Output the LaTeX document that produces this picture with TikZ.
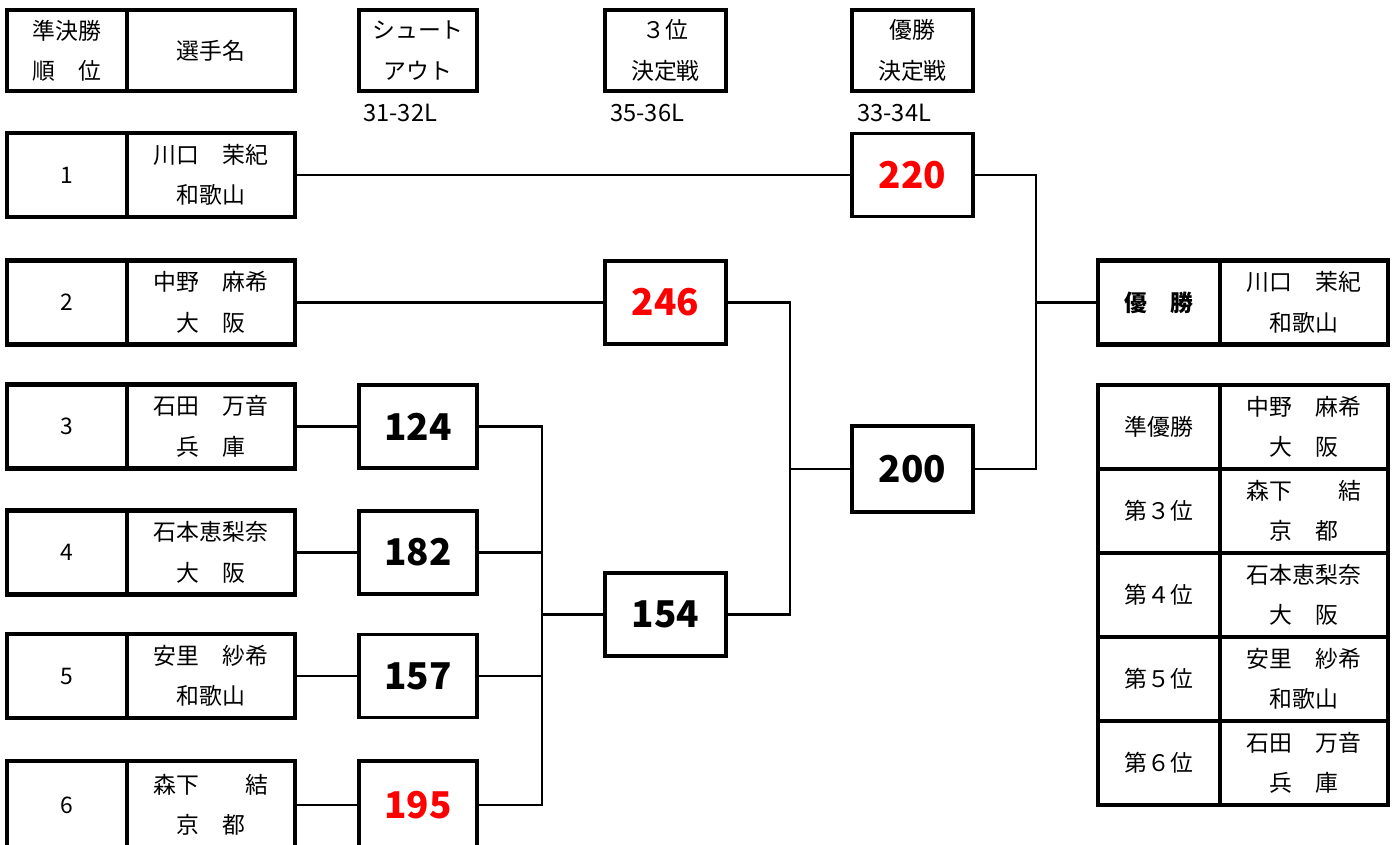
\documentclass[tikz,border=0pt]{standalone}
\usepackage{fontspec}
\setmainfont{Noto Sans CJK JP}
\begin{document}
\begin{tikzpicture}[x=0.02cm,y=-0.02cm,
        hd/.style={draw,line width=1.8pt,minimum width=2.4cm,minimum height=1.62cm,inner sep=0pt,align=center,font=\fontsize{13}{23}\selectfont},
        rk/.style={draw,line width=2.7pt,minimum width=2.4cm,minimum height=1.68cm,inner sep=0pt,align=center,font=\fontsize{13}{23}\selectfont},
        nm/.style={rk,minimum width=3.36cm},
        sc/.style={draw,line width=1.8pt,minimum width=2.4cm,minimum height=1.66cm,inner sep=0pt,font=\fontsize{21}{24}\selectfont\bfseries},
        lb/.style={anchor=west,inner sep=0pt,font=\fontsize{13.5}{16}\selectfont},
        ln/.style={line width=1.4pt}]
        \useasboundingbox (0,0) rectangle (1397,845);

        \node[hd] (h0) at (67,50.5) {準決勝\\順　位};
        \node[hd,minimum width=3.36cm] (h1) at (211,50.5) {選手名};
        \node[hd,minimum width=2.36cm] (hs) at (418,50.5) {シュート\\アウト};
        \node[hd,minimum width=2.42cm] (ht) at (665.5,50.5) {３位\\決定戦};
        \node[hd,minimum width=2.42cm] (hf) at (912.5,50.5) {優勝\\決定戦};
        \node[lb] (ls) at (363,113) {31-32L};
        \node[lb] (lt) at (610,113) {35-36L};
        \node[lb] (lf) at (857,113) {33-34L};

        \node[rk] (p1) at (67,175) {1};
        \node[nm] (q1) at (211,175) {川口　茉紀\\和歌山};
        \node[rk] (p2) at (67,302.5) {2};
        \node[nm] (q2) at (211,302.5) {中野　麻希\\大　阪};
        \node[rk] (p3) at (67,426.5) {3};
        \node[nm] (q3) at (211,426.5) {石田　万音\\兵　庫};
        \node[rk] (p4) at (67,552.5) {4};
        \node[nm] (q4) at (211,552.5) {石本恵梨奈\\大　阪};
        \node[rk] (p5) at (67,676) {5};
        \node[nm] (q5) at (211,676) {安里　紗希\\和歌山};
        \node[rk,minimum height=1.76cm] (p6) at (67,805) {6};
        \node[nm,minimum height=1.76cm] (q6) at (211,805) {森下　　結\\京　都};

        \node[sc,minimum width=2.36cm] (s1) at (418,426.5) {124};
        \node[sc,minimum width=2.36cm] (s2) at (418,552.5) {182};
        \node[sc,minimum width=2.36cm] (s3) at (418,676) {157};
        \node[sc,minimum width=2.36cm,minimum height=1.76cm,text=red] (s4) at (418,805) {195};
        \node[sc,minimum width=2.42cm] (b) at (665.5,614.5) {154};
        \node[sc,minimum width=2.42cm,text=red] (t) at (665.5,302.5) {246};
        \node[sc,minimum width=2.42cm,text=red] (f) at (912.5,175) {220};
        \node[sc,minimum width=2.42cm,minimum height=1.72cm] (sf) at (912.5,469) {200};

        \node[rk,minimum width=2.44cm,font=\fontsize{13}{23}\selectfont\bfseries] (w0) at (1159,302.5) {優　勝};
        \node[nm] (w1) at (1304,302.5) {川口　茉紀\\和歌山};
        \node[rk,minimum width=2.44cm] (r2) at (1159,427) {準優勝};
        \node[nm] (n2) at (1304,427) {中野　麻希\\大　阪};
        \node[rk,minimum width=2.44cm] (r3) at (1159,511) {第３位};
        \node[nm] (n3) at (1304,511) {森下　　結\\京　都};
        \node[rk,minimum width=2.44cm] (r4) at (1159,595) {第４位};
        \node[nm] (n4) at (1304,595) {石本恵梨奈\\大　阪};
        \node[rk,minimum width=2.44cm] (r5) at (1159,679) {第５位};
        \node[nm] (n5) at (1304,679) {安里　紗希\\和歌山};
        \node[rk,minimum width=2.44cm] (r6) at (1159,763) {第６位};
        \node[nm] (n6) at (1304,763) {石田　万音\\兵　庫};

        \coordinate (j1) at (542,614.5);
        \coordinate (j2) at (790,469);
        \coordinate (j3) at (1036,302.5);

        \draw[ln] (q1.east) -- (f.west);
        \draw[ln] (q2.east) -- (t.west);
        \draw[ln] (q3.east) -- (s1.west);
        \draw[ln] (q4.east) -- (s2.west);
        \draw[ln] (q5.east) -- (s3.west);
        \draw[ln] (q6.east) -- (s4.west);
        \draw[ln] (s1.east) -| (j1);
        \draw[ln] (s4.east) -| (j1);
        \draw[ln] (s2.east) -- (s2.east -| j1);
        \draw[ln] (s3.east) -- (s3.east -| j1);
        \draw[ln] (j1) -- (b.west);
        \draw[ln] (t.east) -| (j2);
        \draw[ln] (b.east) -| (j2);
        \draw[ln] (j2) -- (sf.west);
        \draw[ln] (f.east) -| (j3);
        \draw[ln] (sf.east) -| (j3);
        \draw[ln] (j3) -- (w0.west);
\end{tikzpicture}
\end{document}
